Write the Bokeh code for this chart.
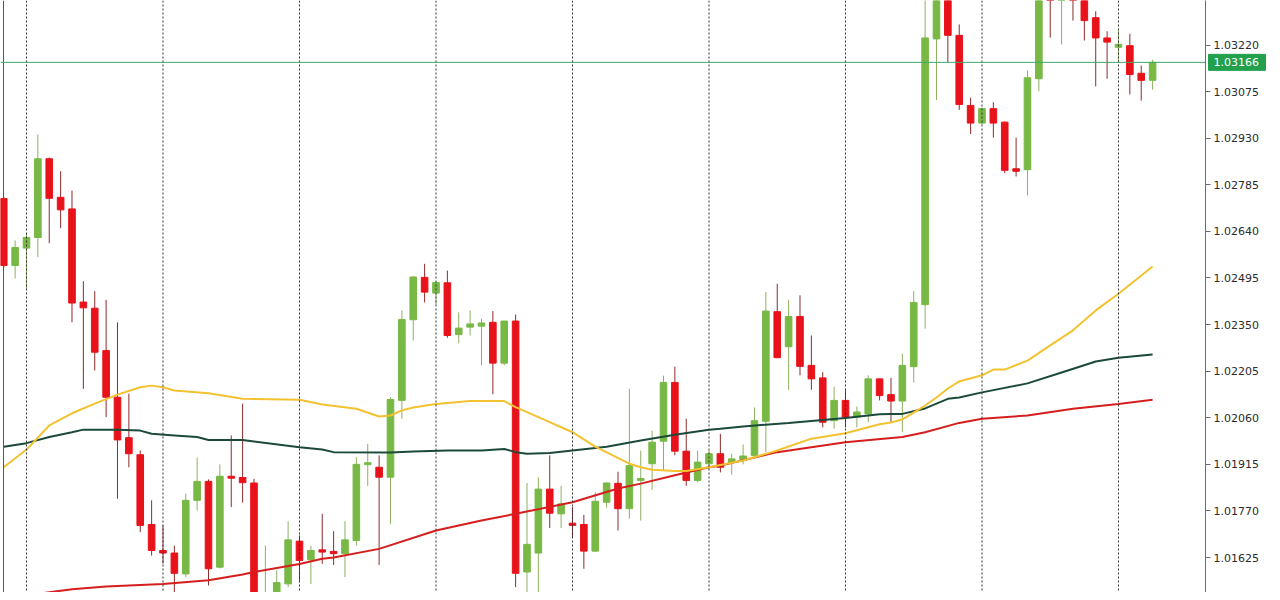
from bokeh.plotting import figure
from bokeh.layouts import row
from bokeh.models import ColumnDataSource, Range1d, FixedTicker, PrintfTickFormatter, Span
from bokeh.core.properties import value
from bokeh.embed import file_html
from bokeh.resources import INLINE

# ---- candle data (bar index 0..101) ----
opens = [1.02742, 1.02534, 1.02588, 1.02621, 1.02866, 1.02746, 1.02710, 1.02420, 1.02401, 1.02269,
         1.02124, 1.01998, 1.01945, 1.01728, 1.01647, 1.01639, 1.01574, 1.01803, 1.01862, 1.01595,
         1.01878, 1.01874, 1.01857, 1.01473, 1.01488, 1.01543, 1.01676, 1.01618, 1.01649, 1.01644,
         1.01637, 1.01678, 1.01914, 1.01906, 1.01875, 1.02114, 1.02365, 1.02497, 1.02448, 1.02480,
         1.02319, 1.02342, 1.02345, 1.02357, 1.02230, 1.02361, 1.01580, 1.01639, 1.01838, 1.01761,
         1.01732, 1.01728, 1.01645, 1.01797, 1.01856, 1.01777, 1.01865, 1.01917, 1.01987, 1.02170,
         1.01956, 1.01865, 1.01917, 1.01948, 1.01921, 1.01927, 1.01943, 1.02049, 1.02390, 1.02281,
         1.02375, 1.02223, 1.02184, 1.02051, 1.02114, 1.02062, 1.02072, 1.02181, 1.02132, 1.02112,
         1.02219, 1.02412, 1.03239, 1.03383, 1.03250, 1.03032, 1.02977, 1.03022, 1.02980, 1.02835,
         1.02832, 1.03115, 1.03436, 1.03385, 1.03430, 1.03370, 1.03305, 1.03242, 1.03213, 1.03218,
         1.03132, 1.03110]
highs = [1.02749, 1.02612, 1.02633, 1.02942, 1.02870, 1.02827, 1.02767, 1.02485, 1.02454, 1.02427,
         1.02357, 1.02135, 1.01958, 1.01803, 1.01725, 1.01662, 1.01824, 1.01936, 1.01868, 1.01915,
         1.02005, 1.02104, 1.01870, 1.01662, 1.01585, 1.01738, 1.01694, 1.01662, 1.01761, 1.01707,
         1.01738, 1.01937, 1.01979, 1.01943, 1.02124, 1.02394, 1.02500, 1.02539, 1.02484, 1.02518,
         1.02388, 1.02394, 1.02368, 1.02392, 1.02361, 1.02381, 1.01857, 1.01875, 1.01943, 1.01848,
         1.01782, 1.01758, 1.01828, 1.01859, 1.01892, 1.02150, 1.01958, 1.02020, 1.02191, 1.02219,
         1.02057, 1.01958, 1.01958, 1.02010, 1.01948, 1.01977, 1.02092, 1.02451, 1.02477, 1.02427,
         1.02441, 1.02316, 1.02202, 1.02157, 1.02147, 1.02095, 1.02192, 1.02182, 1.02184, 1.02259,
         1.02454, 1.03368, 1.03421, 1.03405, 1.03284, 1.03056, 1.03025, 1.03042, 1.02982, 1.02932,
         1.03141, 1.03415, 1.03452, 1.03440, 1.03445, 1.03375, 1.03325, 1.03263, 1.03265, 1.03255,
         1.03156, 1.03174]
lows = [1.02525, 1.02493, 1.02459, 1.02560, 1.02603, 1.02650, 1.02357, 1.02150, 1.02207, 1.02062,
        1.01808, 1.01906, 1.01704, 1.01631, 1.01606, 1.01472, 1.01564, 1.01771, 1.01538, 1.01591,
        1.01782, 1.01796, 1.01460, 1.01454, 1.01470, 1.01533, 1.01553, 1.01543, 1.01605, 1.01602,
        1.01564, 1.01662, 1.01848, 1.01602, 1.01730, 1.02057, 1.02300, 1.02419, 1.02412, 1.02309,
        1.02292, 1.02316, 1.02223, 1.02133, 1.02223, 1.01533, 1.01491, 1.01507, 1.01717, 1.01717,
        1.01687, 1.01590, 1.01642, 1.01780, 1.01709, 1.01746, 1.01740, 1.01836, 1.01896, 1.01943,
        1.01848, 1.01859, 1.01902, 1.01890, 1.01883, 1.01915, 1.01936, 1.01953, 1.02245, 1.02147,
        1.02192, 1.02147, 1.02030, 1.02026, 1.02030, 1.02030, 1.02046, 1.02114, 1.02046, 1.02015,
        1.02170, 1.02337, 1.03049, 1.03167, 1.03018, 1.02943, 1.02972, 1.02932, 1.02821, 1.02811,
        1.02752, 1.03076, 1.03243, 1.03222, 1.03296, 1.03234, 1.03091, 1.03115, 1.03170, 1.03066,
        1.03047, 1.03081]
closes = [1.02534, 1.02590, 1.02621, 1.02866, 1.02743, 1.02707, 1.02417, 1.02402, 1.02264, 1.02124,
          1.01991, 1.01948, 1.01725, 1.01647, 1.01639, 1.01576, 1.01803, 1.01862, 1.01590, 1.01878,
          1.01872, 1.01858, 1.01482, 1.01501, 1.01547, 1.01680, 1.01616, 1.01647, 1.01642, 1.01637,
          1.01680, 1.01915, 1.01920, 1.01875, 1.02117, 1.02366, 1.02498, 1.02451, 1.02481, 1.02316,
          1.02339, 1.02352, 1.02355, 1.02230, 1.02361, 1.01576, 1.01666, 1.01838, 1.01763, 1.01792,
          1.01725, 1.01645, 1.01800, 1.01857, 1.01777, 1.01911, 1.01871, 1.01984, 1.02170, 1.01956,
          1.01865, 1.01922, 1.01948, 1.01906, 1.01932, 1.01941, 1.02051, 1.02392, 1.02247, 1.02375,
          1.02220, 1.02181, 1.02046, 1.02114, 1.02062, 1.02078, 1.02181, 1.02129, 1.02112, 1.02223,
          1.02419, 1.03242, 1.03396, 1.03250, 1.03035, 1.02977, 1.03022, 1.02977, 1.02830, 1.02827,
          1.03118, 1.03390, 1.03383, 1.03420, 1.03395, 1.03296, 1.03242, 1.03229, 1.03222, 1.03128,
          1.03110, 1.03166]

# ---- moving averages (read at selected bars) ----
ma_fast_idx = [0, 2, 4, 6, 8, 10, 12, 13, 14, 15, 18, 21, 26, 28, 31, 33, 34, 35, 36, 38, 41, 44, 45, 47,
               50, 52, 55, 56, 57, 59, 60, 62, 65, 68, 71, 74, 77, 78, 79, 81, 82, 83, 84, 86, 87, 88,
               90, 92, 94, 96, 98, 101]
ma_fast_val = [1.01906, 1.01961, 1.02036, 1.02074, 1.02104, 1.02132, 1.02155, 1.02160, 1.02155, 1.02145,
               1.02136, 1.02119, 1.02116, 1.02101, 1.02088, 1.02064, 1.02067, 1.02083, 1.02092, 1.02103,
               1.02112, 1.02112, 1.02093, 1.02062, 1.02015, 1.01970, 1.01917, 1.01906, 1.01898, 1.01894,
               1.01894, 1.01906, 1.01927, 1.01958, 1.01995, 1.02012, 1.02040, 1.02045, 1.02055, 1.02098,
               1.02123, 1.02151, 1.02173, 1.02192, 1.02210, 1.02210, 1.02238, 1.02285, 1.02332, 1.02394,
               1.02446, 1.02531]
ma_mid_idx = [0, 2, 4, 6, 7, 10, 12, 13, 15, 17, 18, 21, 26, 28, 29, 34, 36, 39, 42, 44, 45, 46, 48, 50,
              53, 56, 59, 62, 63, 65, 69, 74, 77, 78, 79, 81, 83, 84, 86, 90, 93, 96, 98, 101]
ma_mid_val = [1.01970, 1.01981, 1.02000, 1.02015, 1.02023, 1.02023, 1.02020, 1.02010, 1.02005, 1.02000,
              1.01991, 1.01991, 1.01968, 1.01961, 1.01953, 1.01952, 1.01955, 1.01958, 1.01958, 1.01963,
              1.01953, 1.01948, 1.01950, 1.01958, 1.01970, 1.01989, 1.02007, 1.02023, 1.02026, 1.02033,
              1.02044, 1.02059, 1.02071, 1.02072, 1.02072, 1.02089, 1.02119, 1.02123, 1.02139, 1.02167,
              1.02201, 1.02235, 1.02247, 1.02257]
ma_slow_idx = [0, 4, 6, 9, 14, 18, 21, 22, 26, 28, 29, 33, 38, 42, 45, 50, 54, 56, 59, 62, 63, 68, 74, 79,
               81, 84, 86, 90, 94, 98, 101]
ma_slow_val = [1.01496, 1.01517, 1.01526, 1.01535, 1.01543, 1.01554, 1.01572, 1.01580, 1.01605, 1.01621,
               1.01625, 1.01652, 1.01709, 1.01740, 1.01761, 1.01797, 1.01840, 1.01855, 1.01881, 1.01906,
               1.01911, 1.01953, 1.01984, 1.02000, 1.02015, 1.02044, 1.02057, 1.02067, 1.02088, 1.02103,
               1.02116]

separator_bars = [2, 14, 26, 38, 50, 62, 74, 86, 98]
y_ticks = [1.01480, 1.01625, 1.01770, 1.01915, 1.02060, 1.02205, 1.02350, 1.02495, 1.02640,
           1.02785, 1.02930, 1.03075, 1.03220, 1.03365]
last_price = 1.03166

# ---- build sources ----
idx = list(range(len(opens)))
up = dict(x=[], top=[], bottom=[], high=[], low=[])
dn = dict(x=[], top=[], bottom=[], high=[], low=[])
for i, o, h, l, c in zip(idx, opens, highs, lows, closes):
    d = up if c >= o else dn
    d["x"].append(i)
    d["top"].append(max(o, c))
    d["bottom"].append(min(o, c))
    d["high"].append(h)
    d["low"].append(l)
src_up = ColumnDataSource(up)
src_dn = ColumnDataSource(dn)

FRAME_W, FRAME_H, AXIS_W = 1205, 592, 67
X0, X1 = -0.2857, 105.65
yr = Range1d(1.015162, 1.033585)
p = figure(frame_width=FRAME_W, frame_height=FRAME_H,
           x_range=Range1d(X0, X1), y_range=yr,
           x_axis_location=None, y_axis_location="right",
           output_backend="svg", toolbar_location=None,
           min_border_left=0, min_border_top=0, min_border_bottom=0, min_border_right=AXIS_W,
           background_fill_color="white", border_fill_color="white")
p.outline_line_color = None
p.xgrid.visible = False
p.ygrid.visible = False

# left frame edge of the chart window
p.add_layout(Span(location=X0 + 3 * (X1 - X0) / FRAME_W, dimension="height",
                  line_color="#555555", line_width=1))

for b in separator_bars:
    p.add_layout(Span(location=b, dimension="height", line_color="#333333",
                      line_width=1, line_dash="2 2"))

GREEN = "#78B845"
RED = "#E8121A"
p.segment(x0="x", y0="high", x1="x", y1="low", source=src_up, line_color="#8FAF62", line_width=1)
p.segment(x0="x", y0="high", x1="x", y1="low", source=src_dn, line_color="#8E2A2A", line_width=1)
p.vbar(x="x", top="top", bottom="bottom", width=0.58, source=src_up,
       fill_color=GREEN, line_color=GREEN, line_width=1)
p.vbar(x="x", top="top", bottom="bottom", width=0.58, source=src_dn,
       fill_color=RED, line_color=RED, line_width=1)

p.line(ma_slow_idx, ma_slow_val, line_color="#D61E1E", line_width=2)
p.line(ma_mid_idx, ma_mid_val, line_color="#1C4A3A", line_width=2)
p.line(ma_fast_idx, ma_fast_val, line_color="#F2C230", line_width=2)

p.add_layout(Span(location=last_price, dimension="width", line_color="#3DA86A", line_width=1))

ax = p.yaxis[0]
ax.ticker = FixedTicker(ticks=y_ticks)
ax.formatter = PrintfTickFormatter(format="%.5f")
ax.axis_line_color = "#6b6b6b"
ax.major_tick_line_color = "#6b6b6b"
ax.major_tick_out = 5
ax.major_tick_in = 0
ax.minor_tick_line_color = None
ax.major_label_standoff = 3
ax.major_label_text_font = "DejaVu Sans"
ax.major_label_text_font_size = "11px"
ax.major_label_text_color = "#2b2b2b"

# transparent overlay over the price-axis strip, carrying the last-price tag
tag = figure(frame_width=AXIS_W, frame_height=FRAME_H,
             x_range=Range1d(0, AXIS_W), y_range=yr,
             x_axis_location=None, y_axis_location=None,
             output_backend="svg", toolbar_location=None,
             min_border_left=0, min_border_top=0, min_border_bottom=0, min_border_right=0,
             background_fill_alpha=0, border_fill_alpha=0)
tag.outline_line_color = None
tag.grid.visible = False
tag.rect(x=[31.5], y=[last_price], width=57, height=16, height_units="screen",
         fill_color="#22A04B", line_color="#22A04B")
tag.text(x=[8], y=[last_price], text=[f"{last_price:.5f}"], text_color="white",
         text_font=value("DejaVu Sans"), text_font_size="11px", text_baseline="middle",
         text_align="left")
tag.margin = (0, 0, 0, -AXIS_W)

layout = row(p, tag)
layout.spacing = 0
open("out.html", "w").write(file_html(layout, INLINE))
